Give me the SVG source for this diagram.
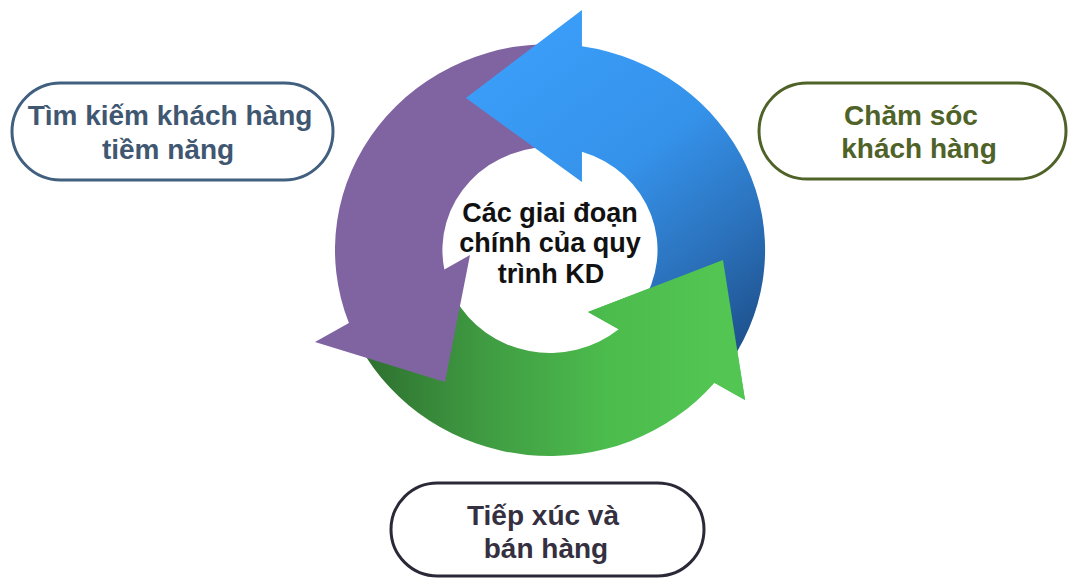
<svg xmlns="http://www.w3.org/2000/svg" width="1069" height="578" viewBox="0 0 1069 578">
<style>
.pill{fill:#ffffff;stroke-width:3}
.lbl{font-family:"Liberation Sans",Arial,sans-serif;font-weight:bold;font-size:28px;text-anchor:middle}
.ctr{font-family:"Liberation Sans",Arial,sans-serif;font-weight:bold;font-size:27px;text-anchor:middle;fill:#111111}
</style>
<defs>
<linearGradient id="gGreen" gradientUnits="userSpaceOnUse" x1="-190" y1="0" x2="160" y2="0">
<stop offset="0" stop-color="#2c6b2e"/>
<stop offset="0.35" stop-color="#3f9a41"/>
<stop offset="0.7" stop-color="#4cbc4d"/>
<stop offset="1" stop-color="#52c552"/>
</linearGradient>
<linearGradient id="gBlue" gradientUnits="userSpaceOnUse" x1="-40" y1="-190" x2="200" y2="110">
<stop offset="0" stop-color="#3a9df8"/>
<stop offset="0.4" stop-color="#3592ea"/>
<stop offset="0.7" stop-color="#2b71bb"/>
<stop offset="1" stop-color="#1b4b83"/>
</linearGradient>
</defs>
<rect width="1069" height="578" fill="#ffffff"/>
<g id="cycle" transform="translate(550,250) scale(1.044,1)">
<path id="arrow-green" fill="url(#gGreen)" d="M-181.9,96.7 A206,206 0 0 0 157.6,132.7 L186.8,150 L165.7,10 L36.4,62 L65.8,79.2 A103,103 0 0 1 -90.9,48.4 Z"/>
<path id="arrow-purple" fill="#8064a2" d="M17.95,-205.2 A206,206 0 0 0 -192.6,73 L-225.1,92 L-100.6,132 L-76.6,5 L-101.2,19.4 A103,103 0 0 1 8.98,-102.6 Z"/>
<path id="arrow-blue" fill="url(#gBlue)" d="M30.6,-203.7 A206,206 0 0 1 172.8,112.2 L86.4,56.1 A103,103 0 0 0 30.6,-98.3 L30.6,-68 L-80.5,-152 L30.6,-240 Z"/>
<path id="arrow-green-head" fill="url(#gGreen)" d="M36.4,62 L165.7,10 L186.8,150 Z"/>
</g>
<g id="center-label">
<text class="ctr" x="550" y="222">Các giai đoạn</text>
<text class="ctr" x="550" y="252">chính của quy</text>
<text class="ctr" x="551" y="283">trình KD</text>
</g>
<g id="node-tim-kiem">
<rect class="pill" x="12" y="83" width="321" height="97" rx="48.5" stroke="#41607f"/>
<text class="lbl" fill="#3f5771" x="170" y="125">Tìm kiếm khách hàng</text>
<text class="lbl" fill="#3f5771" x="168" y="159">tiềm năng</text>
</g>
<g id="node-cham-soc">
<rect class="pill" x="759" y="83" width="307" height="96" rx="48" stroke="#4f6228"/>
<text class="lbl" fill="#4f6228" x="911" y="125">Chăm sóc</text>
<text class="lbl" fill="#4f6228" x="919" y="158">khách hàng</text>
</g>
<g id="node-tiep-xuc">
<rect class="pill" x="391" y="483" width="313" height="93" rx="46.5" stroke="#2b2838"/>
<text class="lbl" fill="#34303f" x="543" y="525">Tiếp xúc và</text>
<text class="lbl" fill="#34303f" x="546" y="558">bán hàng</text>
</g>
<g id="connectors"/>
</svg>
